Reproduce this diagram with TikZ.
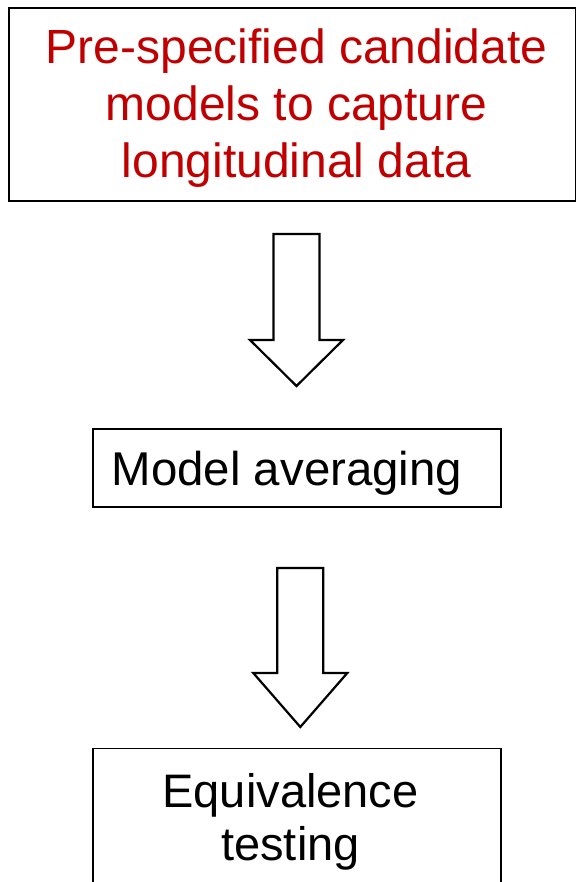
\documentclass[tikz,border=0pt]{standalone}
\usepackage{fontspec}
\setmainfont{Liberation Sans}
\usetikzlibrary{calc}
\definecolor{titlered}{HTML}{C00000}
\begin{document}
\begin{tikzpicture}[x=1pt,y=-1pt,
  box/.style={draw=black,line width=1.8pt,fill=white,inner sep=0pt},
  label/.style={inner sep=0pt,align=center,anchor=base},
  blockarrow/.style={draw=black,line width=2.2pt,fill=white,line join=miter}]
  \useasboundingbox (0,0) rectangle (577,882);
  \clip (0,0) rectangle (577,882);

  % boxes
  \node[box,minimum width=566.5pt,minimum height=193pt] (cand) at (292.25,104.5) {};
  \node[box,minimum width=408pt,minimum height=77.7pt] (avg) at (296.7,467.85) {};
  \node[box,minimum width=408pt,minimum height=160pt] (equiv) at (296.7,828.5) {};

  % box texts (anchored on the baseline of the last line)
  \node[label,text=titlered,font=\fontsize{48}{57.4}\selectfont] (candtext) at (296.5,178)
    {Pre-specified candidate\\models to capture\\longitudinal data};
  \node[label,font=\fontsize{47.4}{56}\selectfont] (avgtext) at (287,485)
    {Model averaging};
  \node[label,font=\fontsize{47}{53}\selectfont] (equivtext) at (290.5,860)
    {Equivalence\\testing};

  % block arrows between the boxes
  \coordinate (a1) at (296.5,234);
  \draw[blockarrow] ($(a1)+(-23,0)$) -- ($(a1)+(23,0)$) -- ($(a1)+(23,106)$)
    -- ($(a1)+(46.5,106)$) -- ($(a1)+(0,152)$) -- ($(a1)+(-46.5,106)$)
    -- ($(a1)+(-23,106)$) -- cycle;
  \coordinate (a2) at (300.3,568);
  \draw[blockarrow] ($(a2)+(-23,0)$) -- ($(a2)+(23,0)$) -- ($(a2)+(23,105)$)
    -- ($(a2)+(47,105)$) -- ($(a2)+(0,159)$) -- ($(a2)+(-47,105)$)
    -- ($(a2)+(-23,105)$) -- cycle;
\end{tikzpicture}
\end{document}
